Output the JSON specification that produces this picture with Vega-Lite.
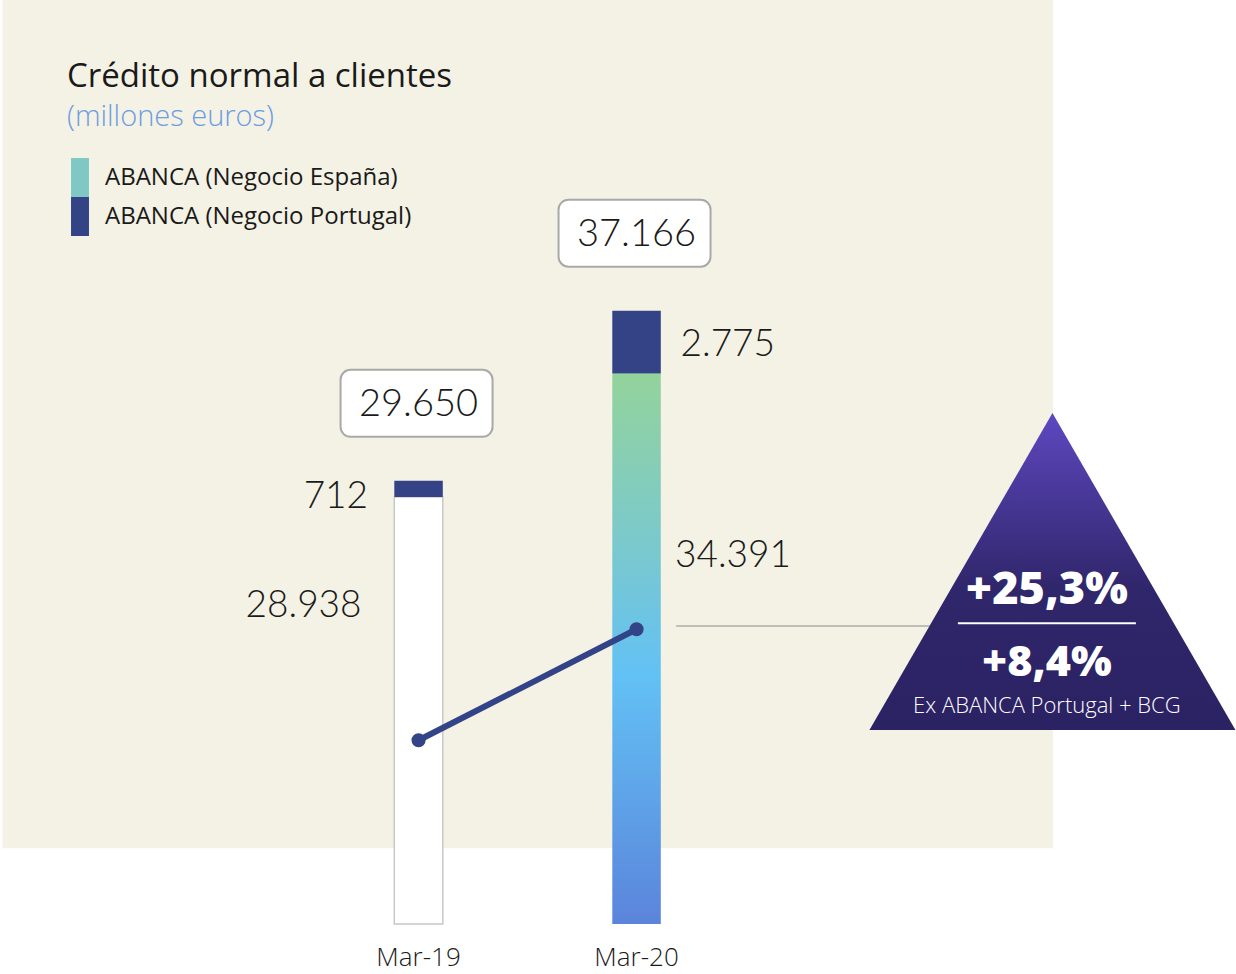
{
  "$schema": "https://vega.github.io/schema/vega-lite/v6.json",
  "width": 1236,
  "height": 924,
  "padding": {"top": 0, "left": 0, "right": 0, "bottom": 3},
  "autosize": {"type": "pad"},
  "background": "#ffffff",
  "title": {
    "text": "Crédito normal a clientes",
    "subtitle": "(millones euros)",
    "anchor": "start",
    "frame": "group",
    "dx": 67,
    "offset": -132,
    "font": "Open Sans",
    "fontSize": 33,
    "fontWeight": 400,
    "color": "#1a1a1a",
    "subtitleFont": "Open Sans",
    "subtitleFontSize": 29,
    "subtitleFontWeight": 300,
    "subtitleColor": "#6d9de2",
    "subtitlePadding": 9
  },
  "config": {
    "view": {"stroke": null},
    "font": "Open Sans",
    "locale": {"number": {"decimal": ",", "thousands": ".", "grouping": [3], "currency": ["", " €"]}}
  },
  "resolve": {"scale": {"x": "independent", "y": "independent"}},
  "layer": [
    {
      "data": {"values": [{}]},
      "layer": [
        {
          "mark": {"type": "rect", "fill": "#f4f2e4"},
          "encoding": {
            "x": {"datum": 0.2, "type": "quantitative", "scale": {"domain": [0, 100]}, "axis": null},
            "x2": {"datum": 85.2},
            "y": {"datum": 0, "type": "quantitative", "scale": {"domain": [0, 100], "reverse": true}, "axis": null},
            "y2": {"datum": 91.8}
          }
        },
        {
          "mark": {"type": "rule", "stroke": "#8a8a8a", "strokeWidth": 1.2},
          "encoding": {
            "x": {"datum": 54.7, "type": "quantitative", "scale": {"domain": [0, 100]}, "axis": null},
            "x2": {"datum": 80},
            "y": {"datum": 67.75, "type": "quantitative", "scale": {"domain": [0, 100], "reverse": true}, "axis": null}
          }
        }
      ]
    },
    {
      "data": {
        "values": [
          {"periodo": "Mar-19", "espana": 28938, "portugal": 712, "total": 29650, "tendencia": 18183},
          {"periodo": "Mar-20", "espana": 34391, "portugal": 2775, "total": 37166, "tendencia": 23088}
        ]
      },
      "encoding": {
        "x": {
          "field": "periodo",
          "type": "nominal",
          "sort": null,
          "scale": {"type": "band", "domain": ["Mar-19", "Mar-20"], "range": [394.3, 660.8], "paddingInner": 0.7775, "paddingOuter": 0},
          "axis": {"title": null, "domain": false, "ticks": false, "grid": false, "labelAngle": 0, "labelFont": "Open Sans", "labelFontSize": 26, "labelFontWeight": 300, "labelColor": "#1a1a1a", "labelBaseline": "alphabetic", "labelPadding": 41}
        }
      },
      "layer": [
        {
          "mark": {"type": "bar", "strokeWidth": 1.5, "opacity": 1},
          "encoding": {
            "y": {"field": "espana", "type": "quantitative", "scale": {"domain": [10065, 50896], "zero": false, "nice": false}, "axis": null},
            "y2": {"datum": 10065},
            "fill": {
              "condition": [
                {
                  "test": "datum.periodo === 'Mar-20'",
                  "value": {"gradient": "linear", "x1": 0, "y1": 0, "x2": 0, "y2": 1, "stops": [{"offset": 0, "color": "#93d39b"}, {"offset": 0.34, "color": "#78c8d2"}, {"offset": 0.55, "color": "#62c1f5"}, {"offset": 1, "color": "#5b84db"}]}
                },
                {"test": "datum.periodo === 'Mar-19'", "value": "#ffffff"}
              ],
              "datum": "ABANCA (Negocio España)",
              "scale": {"domain": ["ABANCA (Negocio España)", "ABANCA (Negocio Portugal)"], "range": ["#80c8c4", "#344385"]},
              "legend": {
                "orient": "none",
                "legendX": 60.5,
                "legendY": 158,
                "title": null,
                "symbolType": "M-0.46,-1H0.46V1H-0.46Z",
                "symbolSize": 1521,
                "symbolStrokeWidth": 0,
                "rowPadding": 0,
                "labelOffset": 5.5,
                "labelFont": "Open Sans",
                "labelFontSize": 24,
                "labelFontWeight": 400,
                "labelColor": "#1a1a1a",
                "labelLimit": 0
              }
            },
            "stroke": {"condition": {"test": "datum.periodo === 'Mar-19'", "value": "#c8c8c8"}, "value": null}
          }
        },
        {
          "mark": {"type": "bar", "opacity": 1},
          "encoding": {
            "y": {"field": "total", "type": "quantitative", "axis": null},
            "y2": {"field": "espana"},
            "fill": {"datum": "ABANCA (Negocio Portugal)"}
          }
        },
        {
          "mark": {"type": "point", "shape": "M-0.87,-0.44L0.87,-0.44A0.13,0.13 0 0 1 1,-0.31L1,0.31A0.13,0.13 0 0 1 0.87,0.44L-0.87,0.44A0.13,0.13 0 0 1 -1,0.31L-1,-0.31A0.13,0.13 0 0 1 -0.87,-0.44Z", "size": 23104, "filled": true, "fill": "#ffffff", "stroke": "#a9a9a9", "strokeWidth": 2, "opacity": 1, "yOffset": -77.5, "xOffset": -2},
          "encoding": {"y": {"field": "total", "type": "quantitative", "axis": null}}
        },
        {
          "mark": {"type": "text", "font": "Lato", "fontSize": 38, "fontWeight": 300, "color": "#1a1a1a", "baseline": "middle", "align": "center", "dy": -76},
          "encoding": {
            "y": {"field": "total", "type": "quantitative", "axis": null},
            "text": {"field": "total", "type": "quantitative", "format": ",d"}
          }
        },
        {
          "transform": [{"filter": "datum.periodo === 'Mar-19'"}],
          "mark": {"type": "text", "font": "Lato", "fontSize": 37, "fontWeight": 300, "color": "#1a1a1a", "baseline": "middle", "align": "right", "dx": -50.5, "dy": 0},
          "encoding": {
            "y": {"field": "espana", "type": "quantitative", "axis": null},
            "text": {"field": "portugal", "type": "quantitative", "format": ",d"}
          }
        },
        {
          "transform": [{"filter": "datum.periodo === 'Mar-19'"}],
          "mark": {"type": "text", "font": "Lato", "fontSize": 37, "fontWeight": 300, "color": "#1a1a1a", "baseline": "middle", "align": "right", "dx": -57, "dy": 109.5},
          "encoding": {
            "y": {"field": "espana", "type": "quantitative", "axis": null},
            "text": {"field": "espana", "type": "quantitative", "format": ",d"}
          }
        },
        {
          "transform": [{"filter": "datum.periodo === 'Mar-20'"}],
          "mark": {"type": "text", "font": "Lato", "fontSize": 37, "fontWeight": 300, "color": "#1a1a1a", "baseline": "middle", "align": "left", "dx": 44, "dy": 34},
          "encoding": {
            "y": {"field": "total", "type": "quantitative", "axis": null},
            "text": {"field": "portugal", "type": "quantitative", "format": ",d"}
          }
        },
        {
          "transform": [{"filter": "datum.periodo === 'Mar-20'"}],
          "mark": {"type": "text", "font": "Lato", "fontSize": 37, "fontWeight": 300, "color": "#1a1a1a", "baseline": "middle", "align": "left", "dx": 38.5, "dy": 182},
          "encoding": {
            "y": {"field": "espana", "type": "quantitative", "axis": null},
            "text": {"field": "espana", "type": "quantitative", "format": ",d"}
          }
        },
        {
          "mark": {"type": "line", "stroke": "#334387", "strokeWidth": 6},
          "encoding": {"y": {"field": "tendencia", "type": "quantitative", "axis": null}}
        },
        {
          "mark": {"type": "point", "filled": true, "fill": "#334387", "size": 200, "opacity": 1},
          "encoding": {"y": {"field": "tendencia", "type": "quantitative", "axis": null}}
        }
      ]
    },
    {
      "data": {"values": [{}]},
      "layer": [
        {
          "mark": {"type": "point", "shape": "M0,-0.866L1,0.866L-1,0.866Z", "size": 133956, "filled": true, "opacity": 1, "strokeWidth": 0,
            "fill": {"gradient": "linear", "x1": 0, "y1": 0, "x2": 0, "y2": 1, "stops": [{"offset": 0, "color": "#5e48c0"}, {"offset": 0.55, "color": "#30266b"}, {"offset": 1, "color": "#2b2263"}]}},
          "encoding": {
            "x": {"datum": 85.15, "type": "quantitative", "scale": {"domain": [0, 100]}, "axis": null},
            "y": {"datum": 61.85, "type": "quantitative", "scale": {"domain": [0, 100], "reverse": true}, "axis": null}
          }
        },
        {
          "mark": {"type": "rule", "stroke": "#ffffff", "strokeWidth": 2},
          "encoding": {
            "x": {"datum": 77.5, "type": "quantitative", "scale": {"domain": [0, 100]}, "axis": null},
            "x2": {"datum": 91.9},
            "y": {"datum": 67.46, "type": "quantitative", "scale": {"domain": [0, 100], "reverse": true}, "axis": null}
          }
        },
        {
          "mark": {"type": "text", "text": "+25,3%", "font": "Open Sans", "fontSize": 45, "fontWeight": 800, "color": "#ffffff", "align": "center", "baseline": "middle"},
          "encoding": {
            "x": {"datum": 84.7, "type": "quantitative", "scale": {"domain": [0, 100]}, "axis": null},
            "y": {"datum": 63.9, "type": "quantitative", "scale": {"domain": [0, 100], "reverse": true}, "axis": null}
          }
        },
        {
          "mark": {"type": "text", "text": "+8,4%", "font": "Open Sans", "fontSize": 43, "fontWeight": 800, "color": "#ffffff", "align": "center", "baseline": "middle"},
          "encoding": {
            "x": {"datum": 84.7, "type": "quantitative", "scale": {"domain": [0, 100]}, "axis": null},
            "y": {"datum": 71.7, "type": "quantitative", "scale": {"domain": [0, 100], "reverse": true}, "axis": null}
          }
        },
        {
          "mark": {"type": "text", "text": "Ex ABANCA Portugal + BCG", "font": "Open Sans", "fontSize": 22, "fontWeight": 300, "color": "#ffffff", "align": "center", "baseline": "middle"},
          "encoding": {
            "x": {"datum": 84.7, "type": "quantitative", "scale": {"domain": [0, 100]}, "axis": null},
            "y": {"datum": 76.45, "type": "quantitative", "scale": {"domain": [0, 100], "reverse": true}, "axis": null}
          }
        }
      ]
    }
  ]
}
